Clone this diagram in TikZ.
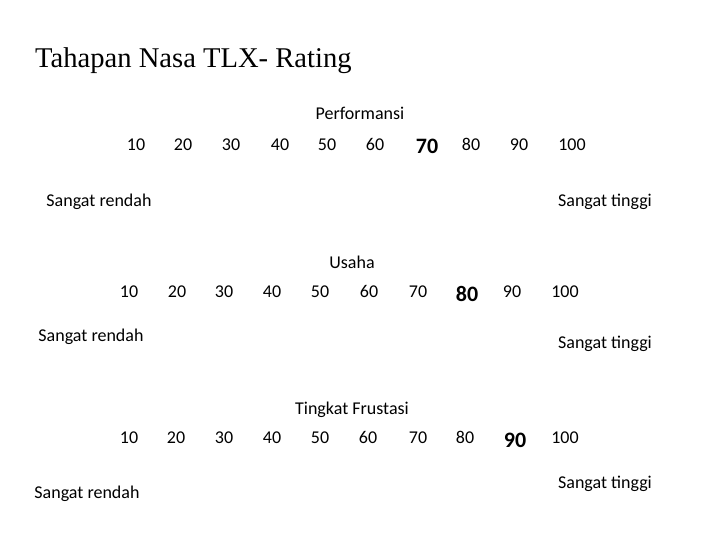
\documentclass[tikz,border=0pt]{standalone}
\usepackage{fontspec}
\setmainfont{Carlito}
\newfontfamily\titlefont{Liberation Serif}
\begin{document}
\begin{tikzpicture}[x=1pt,y=-1pt,
  lbl/.style={inner sep=0pt,anchor=base,font=\fontsize{18}{20}\selectfont},
  num/.style={inner sep=0pt,anchor=base,font=\fontsize{18}{20}\selectfont},
  hi/.style={inner sep=0pt,anchor=base,font=\fontsize{22}{24}\selectfont\bfseries}]
\useasboundingbox[fill=white] (0,0) rectangle (720,540);
\node[inner sep=0pt,anchor=base west,font=\titlefont\fontsize{28.6}{31}\selectfont] (title) at (35,68) {Tahapan Nasa TLX- Rating};
% Row 1
\node[lbl] (h1) at (360,120) {Performansi};
\foreach \v/\x in {10/136,20/183,30/231,40/280,50/327,60/375,80/471,90/519,100/572}
  \node[num] (a\v) at (\x,151) {\v};
\node[hi] (a70) at (427,153.5) {70};
\node[lbl] (lo1) at (99,207) {Sangat rendah};
\node[lbl] (up1) at (605,207) {Sangat tinggi};
% Row 2
\node[lbl] (h2) at (352,268) {Usaha};
\foreach \v/\x in {10/129,20/177,30/224,40/272,50/320,60/369,70/418,90/512,100/565}
  \node[num] (b\v) at (\x,297) {\v};
\node[hi] (b80) at (467,301.5) {80};
\node[lbl] (lo2) at (91,341) {Sangat rendah};
\node[lbl] (up2) at (605,348) {Sangat tinggi};
% Row 3
\node[lbl] (h3) at (352,414) {Tingkat Frustasi};
\foreach \v/\x in {10/129,20/176,30/224,40/272,50/320,60/368,70/418,80/465,100/565}
  \node[num] (c\v) at (\x,443) {\v};
\node[hi] (c90) at (515,447.5) {90};
\node[lbl] (lo3) at (87,498) {Sangat rendah};
\node[lbl] (up3) at (605,488) {Sangat tinggi};
\end{tikzpicture}
\end{document}
